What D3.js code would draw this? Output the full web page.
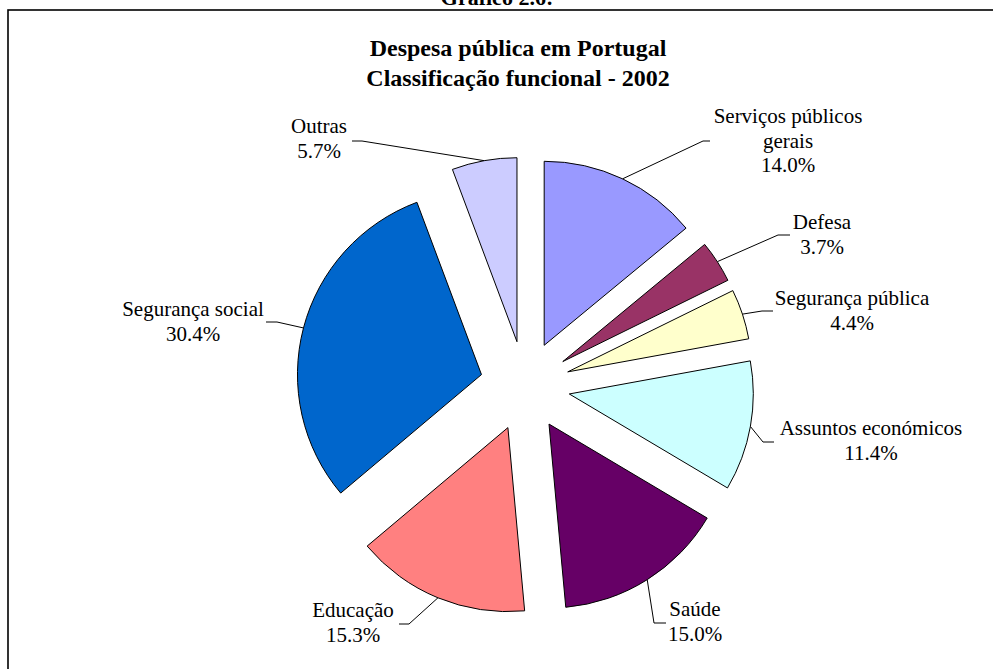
<!DOCTYPE html>
<html>
<head>
<meta charset="utf-8">
<script src="https://cdn.jsdelivr.net/npm/d3@7"></script>
<style>
  html, body { margin: 0; padding: 0; background: #fff; }
  svg { display: block; }
  text { font-family: "Liberation Serif", "DejaVu Serif", serif; fill: #000; }
</style>
</head>
<body>
<svg id="chart" width="993" height="669"></svg>
<script>
// ---- data ----
const categories = ["Serviços públicos gerais", "Defesa", "Segurança pública", "Assuntos económicos", "Saúde", "Educação", "Segurança social", "Outras"];
const values = [14.0, 3.7, 4.4, 11.4, 15.0, 15.3, 30.4, 5.7];
const labelLines = [["Serviços públicos", "gerais"], ["Defesa"], ["Segurança pública"], ["Assuntos económicos"], ["Saúde"], ["Educação"], ["Segurança social"], ["Outras"]];
const colors = ["#9999FF", "#993366", "#FFFFCC", "#CCFFFF", "#660066", "#FF8080", "#0066CC", "#CCCCFF"];
const figureTitle = "Gráfico 2.6:";
const chartTitle = ["Despesa pública em Portugal", "Classificação funcional - 2002"];

// ---- layout (label anchors: center x, first baseline y, leader elbow x, leader end x, leader y) ----
const labelLayout = [
  {x: 788, y: 123, hx0: 710, hx1: 703, hy: 141},
  {x: 822, y: 229, hx0: 790, hx1: 778, hy: 235},
  {x: 852, y: 305, hx0: 773, hx1: 762, hy: 311},
  {x: 871, y: 435, hx0: 774, hx1: 763, hy: 442},
  {x: 695, y: 616, hx0: 666, hx1: 654, hy: 623},
  {x: 353, y: 617, hx0: 399, hx1: 409, hy: 624},
  {x: 193, y: 316, hx0: 266, hx1: 277, hy: 322},
  {x: 319, y: 133, hx0: 352, hx1: 362, hy: 141}
];

const W = 993, H = 669;
const cx = 525, cy = 386, R = 184, explode = 45, lineH = 24.5;

const svg = d3.select("#chart");

// frame
svg.append("rect")
  .attr("x", 8).attr("y", 10)
  .attr("width", W + 20).attr("height", H + 20)
  .attr("fill", "none").attr("stroke", "#000").attr("stroke-width", 1.6);

// figure caption (cut off at top)
svg.append("text")
  .attr("x", 497).attr("y", 5)
  .attr("text-anchor", "middle")
  .style("font-weight", "bold").style("font-size", "22px")
  .text(figureTitle);

// chart title
const t = svg.append("text")
  .attr("text-anchor", "middle")
  .style("font-weight", "bold").style("font-size", "24px");
chartTitle.forEach((s, i) => {
  t.append("tspan").attr("x", 518).attr("y", 56 + i * 30).text(s);
});

// pie
const data = categories.map((c, i) => ({cat: c, value: values[i], lines: labelLines[i], color: colors[i], lay: labelLayout[i]}));
const pie = d3.pie().value(d => d.value).sort(null).startAngle(0).endAngle(2 * Math.PI);
const arcs = pie(data);
const arc = d3.arc().innerRadius(0).outerRadius(R);

const g = svg.append("g").attr("transform", `translate(${cx},${cy})`);

arcs.forEach(a => {
  const mid = (a.startAngle + a.endAngle) / 2;
  a.dx = Math.sin(mid) * explode;
  a.dy = -Math.cos(mid) * explode;
  a.ex = Math.sin(mid) * (explode + R);
  a.ey = -Math.cos(mid) * (explode + R);
});

g.selectAll("path.slice")
  .data(arcs)
  .join("path")
  .attr("class", "slice")
  .attr("transform", d => `translate(${d.dx},${d.dy})`)
  .attr("d", arc)
  .attr("fill", d => d.data.color)
  .attr("stroke", "#000")
  .attr("stroke-width", 1)
  .attr("stroke-linejoin", "miter");

// leader lines
svg.selectAll("path.leader")
  .data(arcs)
  .join("path")
  .attr("class", "leader")
  .attr("d", d => `M${d.data.lay.hx0},${d.data.lay.hy}L${d.data.lay.hx1},${d.data.lay.hy}L${cx + d.ex},${cy + d.ey}`)
  .attr("fill", "none")
  .attr("stroke", "#000")
  .attr("stroke-width", 1);

// labels
const fmt = d3.format(".1f");
arcs.forEach(d => {
  const lines = d.data.lines.concat([fmt(d.data.value) + "%"]);
  const txt = svg.append("text")
    .attr("text-anchor", "middle")
    .style("font-size", "21px");
  lines.forEach((s, i) => {
    txt.append("tspan").attr("x", d.data.lay.x).attr("y", d.data.lay.y + i * lineH).text(s);
  });
});
</script>
</body>
</html>
